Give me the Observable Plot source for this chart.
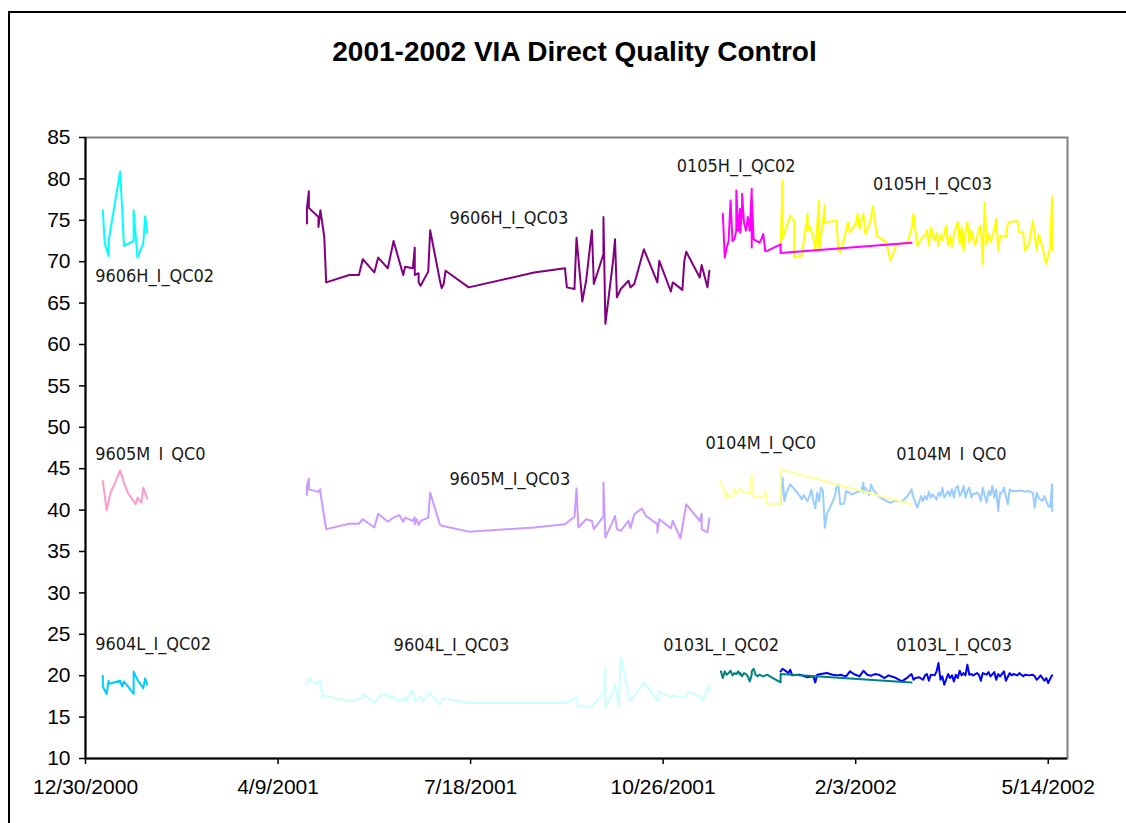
<!DOCTYPE html>
<html><head><meta charset="utf-8">
<script src="https://cdn.jsdelivr.net/npm/d3@7"></script>
<script src="https://cdn.jsdelivr.net/npm/@observablehq/plot@0.6"></script>
<style>
body{margin:0;background:#fff;}
#wrap{position:relative;width:1126px;height:823px;overflow:hidden;background:#fff;}
#border{position:absolute;left:8px;top:11px;width:1200px;height:900px;border-left:2px solid #000;border-top:2px solid #000;}
#title{position:relative;height:90px;box-sizing:border-box;padding-top:36px;width:1149px;text-align:center;font:bold 28px/32px "Liberation Sans",Arial,sans-serif;color:#000;}
#chart{position:relative;}
</style></head><body>
<div id="wrap"><div id="border"></div><div id="title">2001-2002 VIA Direct Quality Control</div><div id="chart"></div></div>
<script>
// ---- axis ticks ----
const yTicks = [10,15,20,25,30,35,40,45,50,55,60,65,70,75,80,85];
const xTickDates = ["2000-12-30","2001-04-09","2001-07-18","2001-10-26","2002-02-03","2002-05-14"];
const xDomain = ["2000-12-30","2002-05-24"];
const yDomain = [10,85];

// ---- series (date, value) ----
const h9606_qc02 = [["2001-01-08",76.2],["2001-01-09",72.2],["2001-01-11",70.7],["2001-01-11",72.5],["2001-01-17",80.9],["2001-01-19",71.9],["2001-01-24",72.5],["2001-01-24",76.2],["2001-01-26",70.5],["2001-01-29",72.2],["2001-01-30",75.5],["2001-01-31",73.5],["2001-01-31",73.8]];
const h9606_qc03 = [["2001-04-24",74.6],["2001-04-24",76.4],["2001-04-25",78.5],["2001-04-25",76.5],["2001-04-30",75.4],["2001-04-30",74.2],["2001-05-01",76.2],["2001-05-03",73.0],["2001-05-04",67.5],["2001-05-16",68.4],["2001-05-21",68.4],["2001-05-23",70.3],["2001-05-29",68.7],["2001-05-31",70.5],["2001-06-05",69.2],["2001-06-08",72.5],["2001-06-13",68.4],["2001-06-14",69.4],["2001-06-18",69.2],["2001-06-19",71.7],["2001-06-19",68.4],["2001-06-21",68.6],["2001-06-21",67.5],["2001-06-22",67.1],["2001-06-26",68.8],["2001-06-27",73.8],["2001-07-02",67.8],["2001-07-03",66.8],["2001-07-04",67.3],["2001-07-05",68.9],["2001-07-17",66.9],["2001-08-20",68.7],["2001-09-05",69.2],["2001-09-06",66.9],["2001-09-10",66.7],["2001-09-10",67.1],["2001-09-11",72.9],["2001-09-14",65.2],["2001-09-16",67.7],["2001-09-19",73.8],["2001-09-20",67.3],["2001-09-25",70.9],["2001-09-25",75.4],["2001-09-26",62.5],["2001-09-30",70.1],["2001-10-01",72.7],["2001-10-02",65.7],["2001-10-04",66.7],["2001-10-08",67.7],["2001-10-09",66.9],["2001-10-11",67.3],["2001-10-16",71.5],["2001-10-23",67.5],["2001-10-24",70.1],["2001-10-30",66.4],["2001-10-31",67.5],["2001-11-05",66.6],["2001-11-06",70.1],["2001-11-07",71.2],["2001-11-14",68.1],["2001-11-15",69.6],["2001-11-18",66.9],["2001-11-19",68.9]];
const h0105_qc02 = [["2001-11-26",75.8],["2001-11-27",70.5],["2001-11-28",71.7],["2001-11-29",72.5],["2001-11-30",77.4],["2001-12-01",72.5],["2001-12-02",72.7],["2001-12-03",73.75],["2001-12-03",78.6],["2001-12-04",73.75],["2001-12-05",76.4],["2001-12-05",73.5],["2001-12-06",76.0],["2001-12-06",78.2],["2001-12-07",74.75],["2001-12-08",73.75],["2001-12-09",75.4],["2001-12-10",73.75],["2001-12-11",78.8],["2001-12-11",71.7],["2001-12-11",78.0],["2001-12-12",72.7],["2001-12-15",72.3],["2001-12-16",72.7],["2001-12-17",73.35],["2001-12-18",71.3],["2001-12-19",71.3],["2001-12-26",72.1],["2001-12-26",71.05],["2002-03-04",72.3]];
const h0105_qc03 = [["2001-12-26",71.33],["2001-12-27",79.88],["2001-12-27",72.74],["2001-12-31",75.57],["2002-01-02",74.96],["2002-01-02",70.53],["2002-01-06",70.73],["2002-01-09",75.77],["2002-01-09",73.75],["2002-01-10",74.36],["2002-01-12",72.95],["2002-01-13",71.33],["2002-01-15",77.38],["2002-01-15",71.33],["2002-01-18",76.78],["2002-01-18",74.76],["2002-01-24",74.96],["2002-01-25",71.33],["2002-01-26",71.13],["2002-01-28",72.74],["2002-01-30",74.76],["2002-01-31",73.55],["2002-02-03",74.56],["2002-02-04",75.77],["2002-02-05",73.95],["2002-02-06",74.96],["2002-02-07",75.77],["2002-02-08",73.35],["2002-02-10",74.36],["2002-02-12",76.66],["2002-02-14",73.15],["2002-02-19",72.34],["2002-02-21",70.12],["2002-02-24",71.94],["2002-02-26",72.14],["2002-03-02",72.34],["2002-03-04",73.95],["2002-03-05",75.77],["2002-03-07",71.94],["2002-03-09",72.74],["2002-03-11",73.15],["2002-03-12",73.75],["2002-03-13",71.94],["2002-03-14",74.16],["2002-03-16",72.54],["2002-03-17",73.55],["2002-03-18",71.94],["2002-03-19",73.35],["2002-03-20",72.54],["2002-03-22",74.36],["2002-03-23",71.94],["2002-03-24",73.15],["2002-03-25",71.74],["2002-03-26",73.35],["2002-03-28",74.76],["2002-03-29",72.14],["2002-03-30",74.16],["2002-03-31",71.33],["2002-04-01",73.55],["2002-04-02",74.76],["2002-04-03",72.34],["2002-04-04",73.75],["2002-04-05",72.95],["2002-04-06",71.94],["2002-04-08",73.95],["2002-04-09",74.36],["2002-04-10",69.72],["2002-04-11",77.18],["2002-04-12",72.14],["2002-04-13",73.35],["2002-04-14",72.34],["2002-04-16",73.95],["2002-04-17",75.16],["2002-04-18",71.33],["2002-04-19",73.15],["2002-04-22",72.95],["2002-04-23",74.56],["2002-04-24",74.76],["2002-04-28",74.96],["2002-04-29",73.55],["2002-05-01",73.55],["2002-05-02",71.33],["2002-05-04",72.14],["2002-05-06",74.96],["2002-05-08",71.33],["2002-05-09",73.35],["2002-05-11",71.74],["2002-05-13",69.72],["2002-05-15",71.74],["2002-05-16",77.78],["2002-05-16",71.33]];
const m9605_qc0 = [["2001-01-08",43.5],["2001-01-10",40.0],["2001-01-12",42.1],["2001-01-14",43.1],["2001-01-17",44.8],["2001-01-19",43.3],["2001-01-21",42.1],["2001-01-25",40.7],["2001-01-26",41.5],["2001-01-28",40.9],["2001-01-29",42.7],["2001-01-30",42.1],["2001-01-31",41.4]];
const m9605_qc03 = [["2001-04-24",41.8],["2001-04-24",42.9],["2001-04-25",43.8],["2001-04-25",42.5],["2001-04-30",42.2],["2001-05-01",42.5],["2001-05-01",42.1],["2001-05-04",37.7],["2001-05-16",38.35],["2001-05-21",38.35],["2001-05-23",38.9],["2001-05-29",37.9],["2001-05-31",39.55],["2001-06-05",38.6],["2001-06-08",39.1],["2001-06-11",39.4],["2001-06-13",38.6],["2001-06-14",39.1],["2001-06-18",38.7],["2001-06-19",39.1],["2001-06-19",38.3],["2001-06-20",38.9],["2001-06-21",38.2],["2001-06-22",38.7],["2001-06-26",39.1],["2001-06-27",42.1],["2001-07-02",38.3],["2001-07-03",38.1],["2001-07-17",37.4],["2001-08-20",37.9],["2001-09-05",38.3],["2001-09-10",39.2],["2001-09-11",42.6],["2001-09-12",37.9],["2001-09-16",38.9],["2001-09-19",38.7],["2001-09-20",37.7],["2001-09-25",39.2],["2001-09-25",43.3],["2001-09-26",36.7],["2001-09-30",38.7],["2001-10-01",39.3],["2001-10-02",37.7],["2001-10-04",37.5],["2001-10-08",38.7],["2001-10-09",37.8],["2001-10-11",39.5],["2001-10-15",40.2],["2001-10-17",39.3],["2001-10-23",38.3],["2001-10-23",37.3],["2001-10-24",38.9],["2001-10-30",37.8],["2001-10-31",38.7],["2001-11-04",36.6],["2001-11-07",40.7],["2001-11-14",38.7],["2001-11-15",39.55],["2001-11-15",37.7],["2001-11-18",37.3],["2001-11-19",39.0]];
const m0104_qc0a = [["2001-11-25",43.5],["2001-11-26",42.7],["2001-11-28",41.3],["2001-11-28",42.1],["2001-11-29",41.7],["2001-12-01",41.7],["2001-12-02",42.7],["2001-12-03",41.9],["2001-12-04",42.3],["2001-12-05",42.7],["2001-12-07",42.1],["2001-12-09",42.1],["2001-12-10",41.9],["2001-12-11",44.3],["2001-12-12",41.5],["2001-12-15",41.7],["2001-12-17",41.5],["2001-12-18",42.3],["2001-12-19",40.7],["2001-12-26",40.7],["2001-12-26",44.9],["2002-03-04",40.7]];
const m0104_qc0b = [["2001-12-26",40.69],["2001-12-27",43.92],["2001-12-28",41.09],["2001-12-29",42.1],["2001-12-31",43.11],["2002-01-03",42.3],["2002-01-05",41.7],["2002-01-06",41.29],["2002-01-07",41.82],["2002-01-09",41.09],["2002-01-10",41.7],["2002-01-11",42.5],["2002-01-12",41.09],["2002-01-13",40.21],["2002-01-14",42.1],["2002-01-15",41.09],["2002-01-16",42.71],["2002-01-17",42.3],["2002-01-18",37.87],["2002-01-19",39.48],["2002-01-21",40.49],["2002-01-23",41.5],["2002-01-24",42.71],["2002-01-25",43.11],["2002-01-26",40.69],["2002-01-28",40.77],["2002-01-29",42.3],["2002-01-31",42.1],["2002-02-01",41.9],["2002-02-02",41.98],["2002-02-04",42.22],["2002-02-06",42.3],["2002-02-07",43.31],["2002-02-07",42.1],["2002-02-08",42.71],["2002-02-09",42.3],["2002-02-10",41.82],["2002-02-11",43.11],["2002-02-12",42.5],["2002-02-14",41.9],["2002-02-16",41.5],["2002-02-19",41.09],["2002-02-21",40.89],["2002-02-23",41.09],["2002-02-26",41.09],["2002-02-27",41.01],["2002-03-01",41.5],["2002-03-02",41.7],["2002-03-04",42.5],["2002-03-05",41.5],["2002-03-06",40.89],["2002-03-07",40.29],["2002-03-09",41.7],["2002-03-10",41.09],["2002-03-11",41.7],["2002-03-12",41.29],["2002-03-13",42.22],["2002-03-14",41.5],["2002-03-15",41.9],["2002-03-17",41.29],["2002-03-18",42.1],["2002-03-19",41.7],["2002-03-20",42.71],["2002-03-21",41.5],["2002-03-23",42.3],["2002-03-24",41.7],["2002-03-25",42.5],["2002-03-26",41.5],["2002-03-27",42.71],["2002-03-28",42.91],["2002-03-29",41.7],["2002-03-30",42.1],["2002-03-31",42.91],["2002-04-01",41.5],["2002-04-02",42.3],["2002-04-03",42.71],["2002-04-04",41.5],["2002-04-05",41.98],["2002-04-06",41.98],["2002-04-07",42.1],["2002-04-08",41.9],["2002-04-09",41.09],["2002-04-10",42.71],["2002-04-12",40.89],["2002-04-13",42.3],["2002-04-14",41.82],["2002-04-15",42.91],["2002-04-16",41.5],["2002-04-17",42.5],["2002-04-18",39.88],["2002-04-19",42.1],["2002-04-20",42.1],["2002-04-21",42.71],["2002-04-23",40.69],["2002-04-24",42.5],["2002-04-25",42.3],["2002-04-28",42.3],["2002-04-30",42.38],["2002-05-02",42.22],["2002-05-04",42.3],["2002-05-06",42.1],["2002-05-07",40.29],["2002-05-08",42.1],["2002-05-09",41.5],["2002-05-11",41.09],["2002-05-12",41.7],["2002-05-14",40.49],["2002-05-15",40.37],["2002-05-16",43.11],["2002-05-16",39.88]];
const l9604_qc02 = [["2001-01-08",20.0],["2001-01-08",18.7],["2001-01-10",17.8],["2001-01-11",19.4],["2001-01-11",19.0],["2001-01-17",19.4],["2001-01-18",18.7],["2001-01-19",19.3],["2001-01-21",18.7],["2001-01-24",17.8],["2001-01-24",20.5],["2001-01-26",19.5],["2001-01-29",18.5],["2001-01-30",19.7],["2001-01-31",18.9]];
const l9604_qc03 = [["2001-04-24",19.1],["2001-04-25",19.7],["2001-04-29",19.0],["2001-05-01",19.5],["2001-05-02",17.3],["2001-05-03",17.6],["2001-05-16",16.9],["2001-05-23",17.3],["2001-05-23",17.9],["2001-05-29",16.7],["2001-06-01",17.7],["2001-06-05",17.7],["2001-06-07",17.3],["2001-06-08",17.6],["2001-06-11",16.9],["2001-06-13",17.3],["2001-06-14",16.9],["2001-06-18",18.3],["2001-06-19",16.9],["2001-06-22",17.5],["2001-06-23",16.9],["2001-06-27",17.9],["2001-07-02",16.5],["2001-07-04",17.3],["2001-07-05",17.2],["2001-07-17",16.7],["2001-09-06",16.7],["2001-09-11",17.4],["2001-09-12",16.4],["2001-09-19",16.2],["2001-09-20",16.5],["2001-09-25",18.0],["2001-09-26",20.9],["2001-09-26",16.2],["2001-09-29",17.5],["2001-10-01",18.9],["2001-10-03",16.3],["2001-10-04",22.3],["2001-10-09",16.9],["2001-10-16",19.2],["2001-10-23",17.0],["2001-10-24",18.1],["2001-10-30",17.4],["2001-10-31",17.6],["2001-11-06",17.3],["2001-11-08",18.0],["2001-11-14",17.5],["2001-11-15",16.9],["2001-11-19",18.8],["2001-11-19",17.9]];
const l0103_qc02 = [["2001-11-25",20.52],["2001-11-26",19.72],["2001-11-27",20.52],["2001-11-28",20.12],["2001-11-29",20.32],["2001-11-30",20.6],["2001-12-01",20.04],["2001-12-02",20.32],["2001-12-03",20.2],["2001-12-04",20.52],["2001-12-05",20.12],["2001-12-05",20.32],["2001-12-06",19.92],["2001-12-07",20.32],["2001-12-08",20.2],["2001-12-09",19.92],["2001-12-10",19.31],["2001-12-11",20.12],["2001-12-11",20.52],["2001-12-12",20.84],["2001-12-13",20.12],["2001-12-14",19.92],["2001-12-15",20.12],["2001-12-17",19.92],["2001-12-19",20.12],["2001-12-22",19.72],["2001-12-26",19.19],["2001-12-26",20.2],["2002-03-04",19.19]];
const l0103_qc03 = [["2001-12-26",20.52],["2001-12-27",20.84],["2001-12-29",20.52],["2001-12-30",20.32],["2001-12-31",20.72],["2002-01-01",20.04],["2002-01-04",20.12],["2002-01-05",20.12],["2002-01-09",19.8],["2002-01-12",19.92],["2002-01-13",19.19],["2002-01-14",20.12],["2002-01-16",20.2],["2002-01-19",20.32],["2002-01-22",20.12],["2002-01-25",20.04],["2002-01-26",20.12],["2002-01-29",19.92],["2002-01-31",20.52],["2002-02-02",20.2],["2002-02-05",19.92],["2002-02-07",20.6],["2002-02-09",20.12],["2002-02-11",20.0],["2002-02-13",20.2],["2002-02-15",20.12],["2002-02-18",19.72],["2002-02-20",20.04],["2002-02-24",19.72],["2002-02-27",19.31],["2002-03-02",19.8],["2002-03-04",20.2],["2002-03-05",19.51],["2002-03-06",19.72],["2002-03-08",19.8],["2002-03-10",19.51],["2002-03-11",20.04],["2002-03-12",20.2],["2002-03-13",19.39],["2002-03-14",20.12],["2002-03-16",20.04],["2002-03-17",20.52],["2002-03-18",21.53],["2002-03-19",19.51],["2002-03-20",19.92],["2002-03-21",18.91],["2002-03-23",20.2],["2002-03-24",19.72],["2002-03-25",20.04],["2002-03-26",19.31],["2002-03-27",20.12],["2002-03-28",19.72],["2002-03-29",20.6],["2002-03-30",20.04],["2002-03-31",20.32],["2002-04-01",20.04],["2002-04-02",21.33],["2002-04-03",20.12],["2002-04-04",20.2],["2002-04-05",20.04],["2002-04-07",20.32],["2002-04-08",20.12],["2002-04-09",19.39],["2002-04-10",20.32],["2002-04-12",20.12],["2002-04-13",20.44],["2002-04-14",19.92],["2002-04-16",20.44],["2002-04-17",19.51],["2002-04-18",20.2],["2002-04-19",19.92],["2002-04-21",20.52],["2002-04-22",19.39],["2002-04-24",20.32],["2002-04-25",20.04],["2002-04-26",20.2],["2002-04-28",20.04],["2002-04-29",20.32],["2002-05-01",19.92],["2002-05-02",20.12],["2002-05-04",20.04],["2002-05-06",20.12],["2002-05-07",19.92],["2002-05-08",19.51],["2002-05-09",19.72],["2002-05-10",20.04],["2002-05-12",19.39],["2002-05-13",19.72],["2002-05-14",19.11],["2002-05-15",19.64],["2002-05-16",20.04]];

// drawing order and colours (same index)
const seriesList = [h9606_qc02, h9606_qc03, h0105_qc03, h0105_qc02, m9605_qc0, m9605_qc03, m0104_qc0b, m0104_qc0a, l9604_qc02, l9604_qc03, l0103_qc03, l0103_qc02];
const seriesColors = ["#00FFFF","#800080","#FFFF00","#FF00FF","#FF99CC","#CC99FF","#99CCFF","#FFFF99","#00CCFF","#CCFFFF","#0000FF","#008080"];

// ---- in-chart series labels ----
const labelTexts = ["9606H_I_QC02","9606H_I_QC03","0105H_I_QC02","0105H_I_QC03","9605M\u2002I\u2002QC0","9605M_I_QC03","0104M_I_QC0","0104M\u2002I\u2002QC0","9604L_I_QC02","9604L_I_QC03","0103L_I_QC02","0103L_I_QC03"];
const labelDates = ["2001-01-04","2001-07-07","2001-11-02","2002-02-12","2001-01-04","2001-07-07","2001-11-17","2002-02-24","2001-01-04","2001-06-08","2001-10-26","2002-02-24"];
const labelValues = [68.2,75.2,81.5,79.3,46.8,43.75,48.1,46.7,23.75,23.7,23.7,23.7];

const D = s => new Date(s + "T00:00:00Z");
const labels = labelTexts.map((t,i) => ({t, x: D(labelDates[i]), y: labelValues[i]}));

const lines = seriesList.map((arr,i) => Plot.line(arr, {
  x: d => D(d[0]), y: d => d[1], stroke: seriesColors[i], strokeWidth: 2, strokeLinejoin: "round"
}));

const chart = Plot.plot({
  width: 1126, height: 733,
  marginLeft: 85, marginRight: 59, marginTop: 47, marginBottom: 65,
  style: {fontFamily: '"Liberation Sans", Arial, sans-serif', fontSize: "21px", color: "#000", background: "transparent", overflow: "visible"},
  x: {type: "utc", domain: xDomain.map(D)},
  y: {domain: yDomain},
  marks: [
    Plot.frame({stroke: "#808080", strokeWidth: 2}),
    Plot.axisY({ticks: yTicks, tickSize: 6, tickPadding: 9, label: null, strokeWidth: 1.5}),
    Plot.axisX({ticks: xTickDates.map(D), tickFormat: d3.utcFormat("%-m/%-d/%Y"), tickSize: 6, tickPadding: 15, label: null, strokeWidth: 1.5}),
    Plot.ruleY([yDomain[0]], {stroke: "#000", strokeWidth: 2}),
    Plot.ruleX([D(xDomain[0])], {stroke: "#000", strokeWidth: 2}),
    ...lines,
    Plot.text(labels, {x: "x", y: "y", text: "t", textAnchor: "start", fontSize: 18, fill: "#1a1a1a",
      fontFamily: '"DejaVu Sans Condensed", "DejaVu Sans", sans-serif', fontStretch: "condensed"})
  ]
});
document.getElementById("chart").appendChild(chart);
</script>
</body></html>
